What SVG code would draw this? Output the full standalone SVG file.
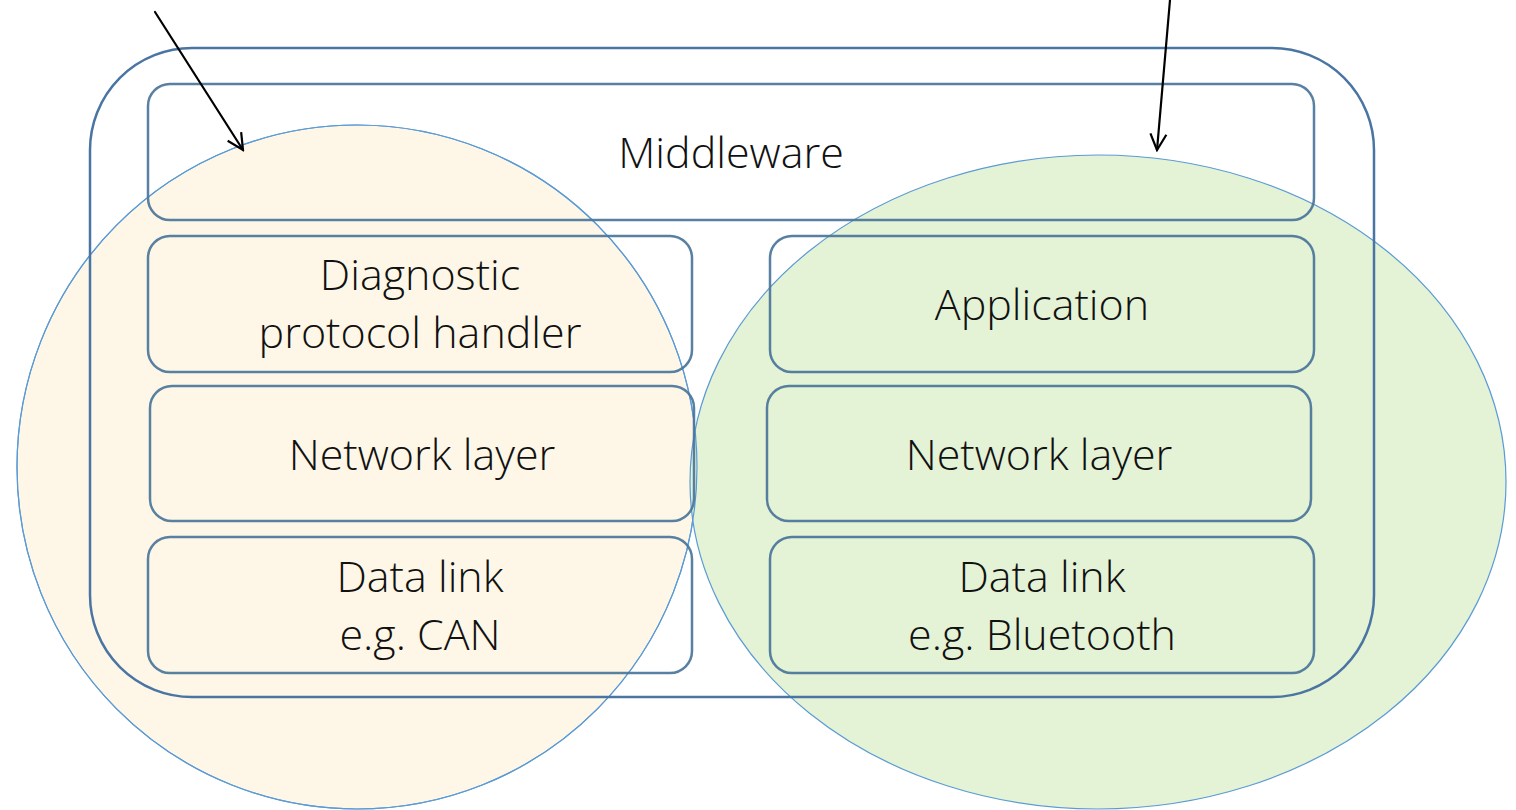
<svg xmlns="http://www.w3.org/2000/svg" width="1516" height="810" viewBox="0 0 1516 810">
  <style>
    .frame { fill: none; stroke: #4a75a3; stroke-width: 2.5; }
    .box { fill: none; stroke: #4a759a; stroke-width: 2.5; stroke-opacity: 0.92; }
    .zone { stroke: #5b9bd5; stroke-width: 1.2; }
    .label { font-family: "Open Sans", "Liberation Sans", sans-serif; font-weight: 300; font-size: 43px; fill: #111111; text-anchor: middle; }
    .arrow { stroke: #000; stroke-width: 2.2; fill: none; stroke-linecap: round; stroke-linejoin: round; }
  </style>
  <defs>
    <marker id="vhead" viewBox="0 0 20 20" refX="18" refY="10" markerWidth="20" markerHeight="20" markerUnits="userSpaceOnUse" orient="auto">
      <path d="M2,2 L18,10 L2,18" fill="none" stroke="#000" stroke-width="2.2"/>
    </marker>
  </defs>
  <rect width="1516" height="810" fill="#ffffff"/>

  <!-- domain zones behind the stack -->
  <g id="zone-left">
    <ellipse class="zone" cx="357" cy="467" rx="340" ry="342" fill="#fef7e7"/>
  </g>
  <g id="zone-right">
    <ellipse class="zone" cx="1098" cy="482" rx="408" ry="327" fill="#e4f2d6"/>
  </g>
  <!-- left zone outline repeated so both rims show where they cross -->
  <ellipse cx="357" cy="467" rx="340" ry="342" fill="none" stroke="#5b9bd5" stroke-width="1.2"/>

  <!-- outer stack frame -->
  <rect id="stack" class="frame" x="90" y="48" width="1284" height="649" rx="102" ry="102"/>

  <g id="middleware">
    <rect class="box" x="148" y="84" width="1166" height="136" rx="22"/>
    <text class="label" x="731" y="168">Middleware</text>
  </g>
  <g id="diagnostic">
    <rect class="box" x="148" y="236" width="544" height="136" rx="22"/>
    <text class="label" x="420" y="290">Diagnostic</text>
    <text class="label" x="420" y="348">protocol handler</text>
  </g>
  <g id="network-left">
    <rect class="box" x="150" y="386" width="544" height="135" rx="22"/>
    <text class="label" x="422" y="470">Network layer</text>
  </g>
  <g id="datalink-left">
    <rect class="box" x="148" y="537" width="544" height="136" rx="22"/>
    <text class="label" x="420" y="592">Data link</text>
    <text class="label" x="420" y="650">e.g. CAN</text>
  </g>
  <g id="application">
    <rect class="box" x="770" y="236" width="544" height="136" rx="22"/>
    <text class="label" x="1042" y="320">Application</text>
  </g>
  <g id="network-right">
    <rect class="box" x="767" y="386" width="544" height="135" rx="22"/>
    <text class="label" x="1039" y="470">Network layer</text>
  </g>
  <g id="datalink-right">
    <rect class="box" x="770" y="537" width="544" height="136" rx="22"/>
    <text class="label" x="1042" y="592">Data link</text>
    <text class="label" x="1042" y="650">e.g. Bluetooth</text>
  </g>

  <g id="connectors">
    <line class="arrow" x1="155" y1="12" x2="243" y2="150" marker-end="url(#vhead)"/>
    <line class="arrow" x1="1170" y1="0" x2="1157" y2="150" marker-end="url(#vhead)"/>
  </g>
</svg>
